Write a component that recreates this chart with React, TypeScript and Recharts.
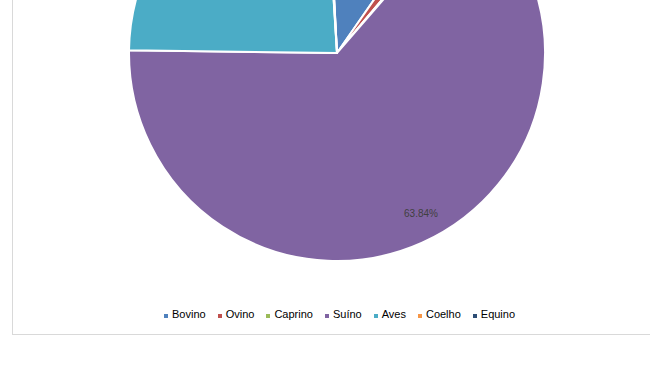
import React from "react";
import { PieChart, Pie, Cell, Legend } from "recharts";

const categories = ["Bovino", "Ovino", "Caprino", "Suíno", "Aves", "Coelho", "Equino"];
const shares = [10.5, 1.5, 0.2, 63.84, 23.8, 0.1, 0.06];
const colors = ["#4F81BD", "#C0504D", "#9BBB59", "#8064A2", "#4BACC6", "#F79646", "#2C4D75"];

const data = categories.map((name, i) => ({ name, value: shares[i] }));

const RAD = Math.PI / 180;

const renderLabel = (p: any) => {
  const r = p.outerRadius * 0.87;
  const a = p.midAngle + 3.5;
  const x = p.cx + r * Math.cos(-a * RAD);
  const y = p.cy + r * Math.sin(-a * RAD);
  if (y < 0) return null;
  return (
    <text
      x={x}
      y={y}
      fill="#404040"
      fontSize={10}
      fontFamily="'Liberation Sans', Arial, sans-serif"
      textAnchor="middle"
      dominantBaseline="central"
    >
      {(p.percent * 100).toFixed(2) + "%"}
    </text>
  );
};

const renderLegend = () => (
  <div
    style={{
      display: "flex",
      alignItems: "center",
      fontFamily: "'Liberation Sans', Arial, sans-serif",
      fontSize: 11,
      color: "#000",
      lineHeight: "13px",
      whiteSpace: "nowrap",
    }}
  >
    {categories.map((c, i) => (
      <div key={c} style={{ display: "flex", alignItems: "center", marginRight: i < categories.length - 1 ? 12 : 0 }}>
        <span style={{ display: "inline-block", width: 4, height: 4, background: colors[i], marginRight: 4, marginTop: 3 }} />
        <span>{c}</span>
      </div>
    ))}
  </div>
);

export default function App() {
  return (
    <div style={{ position: "absolute", left: 0, top: 0, width: 650, height: 366, background: "#fff", overflow: "hidden" }}>
      <div
        style={{
          position: "absolute",
          left: 12,
          top: -10,
          width: 660,
          height: 345,
          boxSizing: "border-box",
          border: "1px solid #d9d9d9",
        }}
      />
      <div style={{ position: "absolute", left: 0, top: 0 }}>
        <PieChart width={650} height={366}>
          <Pie
            data={data}
            dataKey="value"
            nameKey="name"
            cx={332}
            cy={48}
            outerRadius={208}
            startAngle={93}
            endAngle={-267}
            stroke="#ffffff"
            strokeWidth={2}
            label={renderLabel}
            labelLine={false}
            isAnimationActive={false}
          >
            {data.map((d, i) => (
              <Cell key={d.name} fill={colors[i]} />
            ))}
          </Pie>
          <Legend
            content={renderLegend}
            wrapperStyle={{ position: "absolute", left: 164, top: 308, width: "auto" }}
          />
        </PieChart>
      </div>
    </div>
  );
}
